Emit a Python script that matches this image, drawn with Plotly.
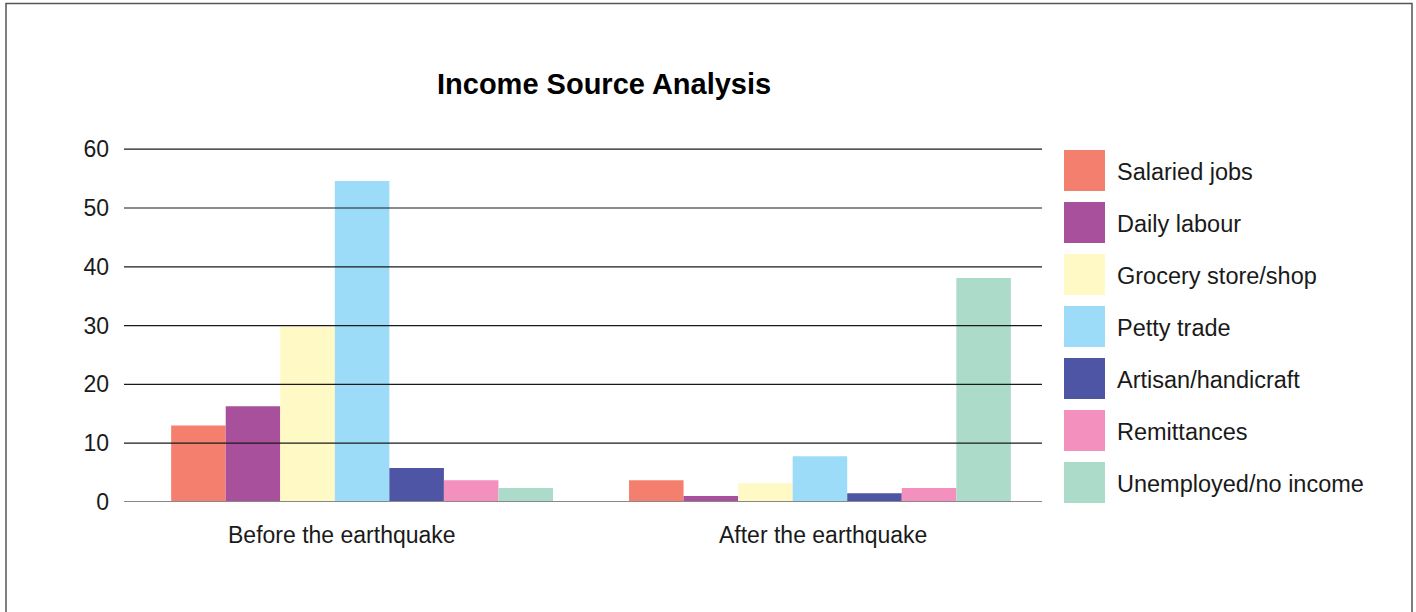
import plotly.graph_objects as go

categories = ["Before the earthquake", "After the earthquake"]
series_names = ["Salaried jobs", "Daily labour", "Grocery store/shop", "Petty trade",
                "Artisan/handicraft", "Remittances", "Unemployed/no income"]
salaried = [13.0, 3.7]
daily_labour = [16.3, 1.0]
grocery = [29.8, 3.2]
petty_trade = [54.6, 7.8]
artisan = [5.8, 1.5]
remittances = [3.7, 2.4]
unemployed = [2.4, 38.1]
colors = ["#F47F6F", "#A9509D", "#FFF9C5", "#9DDCF9", "#4E55A4", "#F390BD", "#ACDCC9"]
y_ticks = [0, 10, 20, 30, 40, 50, 60]

series_values = [salaried, daily_labour, grocery, petty_trade, artisan, remittances, unemployed]

W, H = 1416, 612
L, R, T, B = 124, 1042, 148, 502
FONT = "Liberation Sans, Arial, sans-serif"
TXT = "#1a1a1a"

def px_x(p):
    return (p - L) / (R - L)

def px_y(p):
    return (B - p) / (B - T)

fig = go.Figure()
for name, vals, col in zip(series_names, series_values, colors):
    fig.add_trace(go.Bar(x=categories, y=vals, name=name, marker=dict(color=col, line=dict(width=0)),
                         showlegend=False))

shapes = []
# gridlines drawn above bars
for t in y_ticks:
    shapes.append(dict(type="line", xref="paper", yref="y", x0=0, x1=1, y0=t, y1=t,
                       line=dict(color="#888888" if t == 0 else "#1a1a1a", width=2 if t == 0 else 1.2),
                       layer="above"))
# outer border
shapes.append(dict(type="rect", xref="paper", yref="paper",
                   x0=px_x(6), x1=px_x(1412), y0=px_y(640), y1=px_y(3.5),
                   line=dict(color="#555555", width=1.5), layer="below"))

annotations = []
for i, (name, col) in enumerate(zip(series_names, colors)):
    top = 150 + 52 * i
    shapes.append(dict(type="rect", xref="paper", yref="paper",
                       x0=px_x(1064), x1=px_x(1105), y0=px_y(top + 41), y1=px_y(top),
                       fillcolor=col, line=dict(width=0)))
    annotations.append(dict(xref="paper", yref="paper", x=px_x(1115), y=px_y(top + 22),
                            text=name, showarrow=False, xanchor="left", yanchor="middle",
                            font=dict(family=FONT, size=23.5, color=TXT)))

# category labels (slightly offset as in the original)
label_shift = [-20, 3]
for cat, sh in zip(categories, label_shift):
    annotations.append(dict(xref="x", yref="paper", x=cat, y=px_y(535), xshift=sh,
                            text=cat, showarrow=False, xanchor="center", yanchor="middle",
                            font=dict(family=FONT, size=23, color=TXT)))

annotations.append(dict(xref="paper", yref="paper", x=px_x(604), y=px_y(84),
                        text="<b>Income Source Analysis</b>", showarrow=False,
                        xanchor="center", yanchor="middle",
                        font=dict(family=FONT, size=29, color="#000000")))

fig.update_layout(
    width=W, height=H,
    margin=dict(l=L, r=W - R, t=T, b=H - B, pad=0),
    paper_bgcolor="white", plot_bgcolor="white",
    barmode="group", bargap=0.166, bargroupgap=0,
    shapes=shapes, annotations=annotations,
    font=dict(family=FONT, size=22, color=TXT),
    xaxis=dict(range=[-0.52, 1.485], showgrid=False, zeroline=False, showline=False,
               ticks="", showticklabels=False),
    yaxis=dict(range=[0, 60.2], tickvals=y_ticks, showgrid=False, zeroline=False, showline=False,
               ticks="", ticklabelstandoff=14, tickfont=dict(size=23, color=TXT)),
)

fig.write_html("out.html")
